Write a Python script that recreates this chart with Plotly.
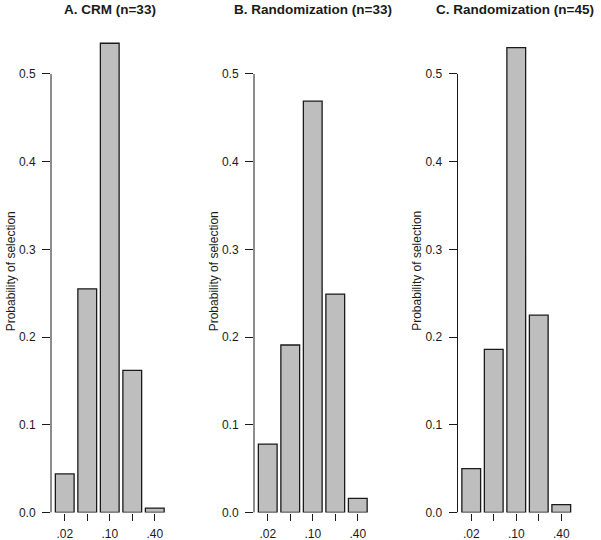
import plotly.graph_objects as go

# ---- data ----
dose_labels = [".02", "", ".10", "", ".40"]
panel_titles = ["A. CRM (n=33)", "B. Randomization (n=33)", "C. Randomization (n=45)"]
crm_33 = [0.044, 0.255, 0.535, 0.162, 0.005]
rand_33 = [0.078, 0.191, 0.469, 0.249, 0.016]
rand_45 = [0.050, 0.186, 0.530, 0.225, 0.009]
y_ticks = [0.0, 0.1, 0.2, 0.3, 0.4, 0.5]
y_title = "Probability of selection"

series = [crm_33, rand_33, rand_45]

W, H = 601, 540
FONT = "Liberation Sans, Arial, Helvetica, sans-serif"
INK = "#1a1a1a"

# barplot geometry (width 1, space 0.2)
positions = [0.7 + 1.2 * i for i in range(len(dose_labels))]
x_range = [-0.032, 6.232]
y_range = [0, 0.55]

# plot-region pixel positions
lefts = [51, 254, 457.5]
reg_w = 117.5
bottom_px, top_px = 512.5, 30.1
title_shift = [0, 0, -1]

fig = go.Figure()
for k, (vals, title) in enumerate(zip(series, panel_titles)):
    xa = "x" if k == 0 else f"x{k+1}"
    ya = "y" if k == 0 else f"y{k+1}"
    fig.add_trace(go.Bar(
        x=positions, y=vals, width=1.0,
        marker=dict(color="#bebebe", line=dict(color=INK, width=1.3)),
        xaxis=xa, yaxis=ya, showlegend=False, hoverinfo="y",
    ))
    dom_x = [lefts[k] / W, (lefts[k] + reg_w) / W]
    dom_y = [(H - bottom_px) / H, (H - top_px) / H]
    xkey = "xaxis" if k == 0 else f"xaxis{k+1}"
    ykey = "yaxis" if k == 0 else f"yaxis{k+1}"
    fig.update_layout(**{
        xkey: dict(domain=dom_x, range=x_range, anchor=ya, automargin=False,
                   tickmode="array", tickvals=positions, ticktext=dose_labels,
                   ticks="outside", ticklen=7, tickwidth=1, tickcolor=INK,
                   showline=False, showgrid=False, zeroline=False,
                   ticklabelstandoff=3,
                   tickfont=dict(family=FONT, size=12, color=INK), fixedrange=True),
        ykey: dict(domain=dom_y, range=y_range, anchor=xa, automargin=False,
                   tickmode="array", tickvals=y_ticks,
                   ticktext=[f"{v:.1f}" for v in y_ticks],
                   ticks="outside", ticklen=8, tickwidth=1, tickcolor=INK,
                   showline=False, showgrid=False, zeroline=False,
                   ticklabelstandoff=4,
                   tickfont=dict(family=FONT, size=12, color=INK), fixedrange=True),
    })
    # y axis line spanning the tick range
    fig.add_shape(type="line", xref=f"{xa} domain", yref=ya,
                  x0=0, x1=0, y0=y_ticks[0], y1=y_ticks[-1],
                  line=dict(color=INK, width=1))
    fig.add_annotation(text=y_title, xref=f"{xa} domain", yref=f"{ya} domain",
                       x=0, y=0.5, xshift=-40, textangle=-90, showarrow=False,
                       xanchor="center", yanchor="middle",
                       font=dict(family=FONT, size=12, color=INK))
    fig.add_annotation(text=f"<b>{title}</b>", xref=f"{xa} domain", yref="paper",
                       x=0.5, y=(H - 10) / H, xshift=title_shift[k], showarrow=False,
                       xanchor="center", yanchor="middle",
                       font=dict(family=FONT, size=13.5, color=INK))

fig.update_layout(template="none", width=W, height=H,
                  margin=dict(l=0, r=0, t=0, b=0, autoexpand=False),
                  paper_bgcolor="white", plot_bgcolor="white", bargap=0)
fig.write_html("out.html", config={"displayModeBar": False, "staticPlot": True},
               post_script="document.body.style.margin='0';document.body.style.overflow='hidden';")
